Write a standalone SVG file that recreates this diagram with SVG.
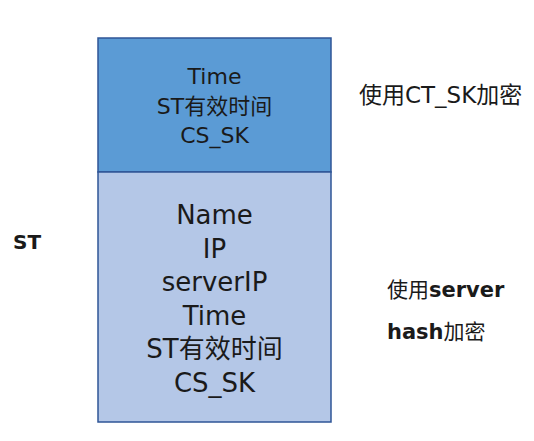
<svg xmlns="http://www.w3.org/2000/svg" width="534" height="441" viewBox="0 0 534 441">
<style>
text{font-family:"DejaVu Sans","Noto Sans CJK SC",sans-serif;fill:#1a1a1a}
.c{text-anchor:middle}
.t{font-size:22px}
.b{font-size:26px}
.box{stroke:#2F5597;stroke-width:1.5}
</style>
<rect width="534" height="441" fill="#ffffff"/>
<g id="st-label"><text x="13" y="249" font-size="20" font-weight="bold">ST</text></g>
<g id="top-section">
<rect class="box" x="98" y="38" width="233" height="134" fill="#5B9BD5"/>
<text class="c t" x="214.5" y="84">Time</text>
<text class="c t" x="214.5" y="114">ST有效时间</text>
<text class="c t" x="214.5" y="143">CS_SK</text>
</g>
<g id="bottom-section">
<rect class="box" x="98" y="172" width="233" height="250" fill="#B4C7E7"/>
<text class="c b" x="214.5" y="224">Name</text>
<text class="c b" x="214.5" y="257.5">IP</text>
<text class="c b" x="214.5" y="291">serverIP</text>
<text class="c b" x="214.5" y="324.5">Time</text>
<text class="c b" x="214.5" y="358">ST有效时间</text>
<text class="c b" x="214.5" y="391.5">CS_SK</text>
</g>
<g id="label-ctsk"><text x="359" y="103" font-size="23">使用CT_SK加密</text></g>
<g id="label-server"><text x="387" y="297" font-size="21">使用<tspan font-weight="bold">server</tspan></text>
<text x="387" y="339" font-size="21"><tspan font-weight="bold">hash</tspan>加密</text></g>
<g id="connectors"></g>
</svg>
